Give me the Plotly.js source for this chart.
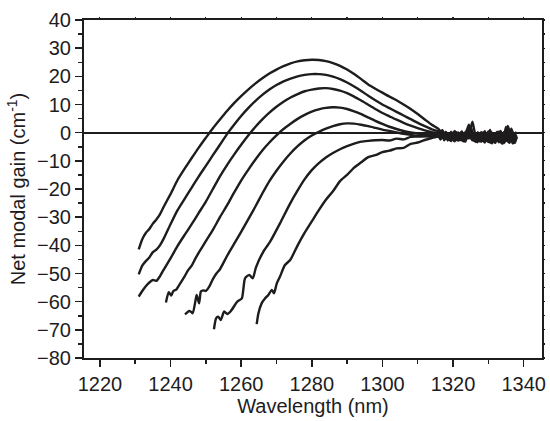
<!DOCTYPE html>
<html>
<head>
<meta charset="utf-8">
<script src="https://cdn.plot.ly/plotly-3.0.1.min.js"></script>
<style>html,body{margin:0;padding:0;background:#fff;}#chart{width:550px;height:421px;}</style>
</head>
<body>
<div id="chart"></div>
<script>
// Wavelength (nm) and net modal gain (cm^-1) for seven curves
const c1x = [1231,1232,1233,1234,1235,1236,1237,1238,1240,1242,1244,1246,1248,1250,1252,1254,1256,1258,1260,1262,1264,1266,1268,1270,1272,1274,1276,1278,1280,1282,1284,1286,1288,1290,1292,1294,1296,1298,1300,1302,1304,1306,1308,1310,1312,1314];
const c1y = [-41.4,-37.8,-35.6,-34.2,-32.3,-30.8,-29.0,-26.5,-21.8,-16.8,-12.8,-9.0,-5.3,-1.8,1.6,4.7,7.7,10.5,13.0,15.3,17.4,19.3,21.0,22.4,23.6,24.6,25.3,25.7,25.9,25.8,25.4,24.7,23.7,22.4,20.8,19.0,17.1,15.6,14.2,12.8,11.5,10.0,8.4,6.6,4.7,2.8];

const c2x = [1231,1232,1233,1234,1235,1236,1237,1238,1240,1242,1244,1246,1248,1250,1252,1254,1256,1258,1260,1262,1264,1266,1268,1270,1272,1274,1276,1278,1280,1282,1284,1286,1288,1290,1292,1294,1296,1298,1300,1302,1304,1306,1308,1310,1312,1314];
const c2y = [-50.3,-47.2,-45.6,-44.3,-42.4,-41.5,-40.0,-37.8,-32.5,-27.5,-23.5,-19.5,-15.5,-11.8,-8.0,-4.3,-0.5,2.8,5.9,8.7,11.2,13.4,15.3,16.9,18.2,19.2,20.0,20.5,20.8,20.8,20.5,19.9,19.0,17.8,16.4,14.8,13.1,11.5,10.0,8.7,7.4,6.1,4.8,3.5,2.3,1.2];

const c3x = [1231,1232,1233,1234,1235,1236,1237,1238,1240,1242,1244,1246,1248,1250,1252,1254,1256,1258,1260,1262,1264,1266,1268,1270,1272,1274,1276,1278,1280,1282,1284,1286,1288,1290,1292,1294,1296,1298,1300,1302,1304,1306,1308,1310,1312,1314];
const c3y = [-58.2,-56.2,-54.5,-53.2,-52.3,-52.6,-51.0,-48.8,-44.6,-40.2,-36.3,-32.5,-28.5,-24.5,-20.0,-15.5,-11.5,-7.8,-4.3,-1.0,2.0,4.7,7.1,9.2,11.0,12.5,13.7,14.7,15.3,15.7,15.8,15.5,14.9,14.0,12.8,11.4,9.9,8.4,7.0,5.8,4.6,3.5,2.5,1.6,0.8,0.2];

const c4x = [1238.7,1239.5,1240.2,1240.8,1241.7,1242.4,1243.2,1244,1245,1246,1247,1248,1250,1252,1254,1256,1258,1260,1262,1264,1266,1268,1270,1272,1274,1276,1278,1280,1282,1284,1286,1288,1290,1292,1294,1296,1298,1300,1302,1304,1306,1308,1310,1312,1314];
const c4y = [-60.3,-56.6,-57.8,-56.2,-55.6,-54.2,-52.6,-51.0,-48.8,-47.2,-44.8,-42.6,-38.5,-34.5,-30.0,-25.8,-21.3,-17.0,-13.2,-9.6,-6.3,-3.5,-1.0,1.3,3.2,4.9,6.3,7.5,8.3,8.8,9.0,8.9,8.4,7.6,6.6,5.4,4.2,3.1,2.1,1.3,0.6,0.1,-0.3,-0.6,-0.8];

const c5x = [1244.1,1245.3,1245.8,1246.3,1247.1,1247.4,1248.1,1248.6,1249.3,1250,1251,1252,1253,1254,1256,1258,1260,1262,1264,1266,1268,1270,1272,1274,1276,1278,1280,1282,1284,1286,1288,1290,1292,1294,1296,1298,1300,1302,1304,1306,1308,1310,1312,1314];
const c5y = [-64.5,-63.3,-63.6,-64.1,-59.4,-57.6,-60.6,-56.4,-56.0,-56.2,-54.6,-52.0,-50.0,-48.5,-43.8,-39.5,-35.2,-30.8,-26.3,-21.6,-17.2,-13.5,-10.2,-7.3,-4.8,-2.7,-1.0,0.3,1.4,2.3,3.0,3.3,3.2,2.8,2.3,1.7,1.1,0.6,0.1,-0.4,-0.8,-1.1,-1.3,-1.4];

const c6x = [1252.3,1252.9,1253.5,1254.2,1255.2,1256.1,1257.1,1258.9,1260.2,1261.1,1262.3,1263.3,1264.2,1266.3,1268.2,1271,1273.9,1276,1278,1280,1282,1284,1286,1288,1290,1292,1294,1296,1298,1300,1302,1304,1306,1308,1310,1312,1314];
const c6y = [-69.8,-65.9,-65.3,-66.5,-63.5,-64.4,-63.3,-60.0,-58.8,-51.7,-50.5,-51.7,-47.8,-42.2,-38.7,-32.2,-25.1,-20.5,-16.5,-13.3,-10.8,-8.8,-7.2,-5.9,-4.8,-3.9,-3.2,-2.9,-2.7,-2.6,-2.8,-2.1,-2.4,-1.5,-1.4,-1.2,-1.0];

const c7x = [1264.4,1264.9,1265.8,1266.8,1267.7,1268.7,1269.3,1270.1,1271,1272.4,1273.9,1276,1278,1280,1282,1284,1286,1288,1290,1292,1294,1296,1298,1300,1302,1304,1306,1308,1310,1312,1314];
const c7y = [-68.0,-64.1,-60.6,-58.8,-57.6,-55.8,-57.0,-53.5,-51.1,-47.0,-45.2,-40.0,-35.5,-31.5,-27.5,-23.8,-20.8,-17.2,-15.0,-12.4,-10.5,-8.7,-8.0,-6.9,-6.4,-5.6,-5.4,-4.0,-3.5,-2.6,-1.9];

// Noisy tails beyond 1316 nm
const tailX = [1316,1316.5,1317,1317.5,1318,1318.5,1319,1319.5,1320,1320.5,1321,1321.5,1322,1322.5,1323,1323.5,1324,1324.5,1325,1325.5,1326,1326.5,1327,1327.5,1328,1328.5,1329,1329.5,1330,1330.5,1331,1331.5,1332,1332.5,1333,1333.5,1334,1334.5,1335,1335.5,1336,1336.5,1337,1337.5,1338];
const t1 = [1.2,0.4,0.9,-0.5,0.3,-1.2,-0.2,-1.6,-0.4,0.6,-1.3,-2.0,-0.5,0.4,-1.4,-0.3,1.2,2.8,0.3,-1.6,-0.4,-2.2,0.1,-1.0,-2.5,-0.6,0.5,-1.9,-0.8,1.0,-1.2,-2.6,-0.7,0.3,-1.8,0.6,-2.3,-1.0,2.0,0.2,-2.0,-0.5,-2.7,-0.9,0.3];
const t2 = [0.4,-0.6,0.2,-1.4,-0.3,-1.9,-0.7,0.3,-1.5,-2.3,-0.8,0.1,-1.7,-0.6,-2.2,-0.4,0.5,-1.2,1.6,3.9,1.0,-1.7,-2.6,-0.6,0.2,-2.0,-2.9,-0.9,0.4,-1.8,-2.5,-0.3,-1.9,-3.0,-0.8,0.2,-1.7,-2.8,-0.4,2.4,0.6,-1.9,-3.2,-1.0,-2.3];
const t3 = [-0.3,-1.2,-0.4,-1.9,-0.8,-2.2,-0.2,-1.5,-2.6,-0.9,0.2,-2.3,-1.0,0.3,-1.6,-2.5,-0.8,0.9,2.2,0.1,-1.5,-2.4,-0.7,-2.9,-1.2,0.1,-1.6,-2.7,-3.3,-0.9,0.0,-2.1,-3.0,-0.6,0.4,-2.2,-3.2,-1.1,-0.2,-2.5,-3.6,-1.2,0.0,-2.8,-1.4];
const t4 = [-1.0,-1.9,-0.5,-2.3,-0.9,-2.6,-0.8,0.0,-2.0,-2.9,-1.1,-0.2,-1.9,-2.7,-0.6,0.2,-2.1,-0.7,0.5,-1.9,-2.9,-0.9,0.0,-2.4,-3.2,-1.0,-0.2,-2.1,-2.8,-3.5,-1.3,-0.4,-2.7,-1.0,-3.4,-1.6,-0.5,0.3,-2.3,-3.1,-0.8,1.4,-0.4,-3.0,-1.2];
const t5 = [-1.5,-2.4,-0.9,-2.7,-1.1,-0.3,-2.3,-3.0,-0.9,-0.2,-2.2,-2.8,-0.6,-2.4,-3.1,-1.0,-0.3,-2.1,0.0,-0.8,-2.6,-3.3,-1.2,-0.4,-2.3,-3.0,-1.1,-0.3,-2.5,-3.2,-3.8,-1.4,-0.6,-2.9,-1.1,-3.3,-3.9,-1.5,-0.7,-3.0,-1.3,-0.5,-3.1,-3.6,-1.7];
const t6 = [-1.1,-0.2,-1.9,-0.4,-2.1,-0.7,-2.5,-0.8,0.0,-2.0,-2.6,-0.9,-0.2,-2.2,-0.6,-2.8,-1.1,-0.3,-1.9,-2.7,-1.0,-0.2,-2.4,-3.1,-0.8,-2.5,-0.7,-2.9,-1.2,-0.4,-2.6,-3.3,-1.0,-2.7,-0.9,-0.1,-2.4,-3.4,-1.1,-0.4,-2.8,-1.0,-3.2,-1.5,-0.8];
const t7 = [-1.4,-2.3,-0.6,-2.5,-1.0,-2.8,-1.2,-0.5,-2.4,-3.1,-1.1,-0.6,-2.7,-0.9,-2.5,-3.2,-1.3,-0.7,0.3,-1.1,-2.9,-1.2,-3.4,-1.6,-0.8,-2.7,-3.5,-1.4,-0.7,-2.8,-1.1,-3.0,-3.6,-1.5,-0.9,-3.1,-1.4,-3.7,-1.8,-1.0,0.5,-2.6,-3.8,-1.9,-1.3];

const mains = [[c1x,c1y,t1],[c2x,c2y,t2],[c3x,c3y,t3],[c4x,c4y,t4],[c5x,c5y,t5],[c6x,c6y,t6],[c7x,c7y,t7]];
const INK = '#1e1c1d';
const FONT = 'Liberation Sans, Arial, Helvetica, sans-serif';

const traces = mains.map(([x, y, t]) => ({
  type: 'scatter', mode: 'lines',
  x: x.concat(tailX), y: y.concat(t),
  line: {color: INK, width: 2.4, shape: 'spline', smoothing: 0.6},
  hoverinfo: 'skip', showlegend: false
}));
// helper trace so the mirrored (top/right) tick axes get drawn
traces.push({type: 'scatter', mode: 'markers', x: [], y: [], xaxis: 'x2', yaxis: 'y2', showlegend: false, hoverinfo: 'skip'});

const layout = {
  width: 550, height: 421,
  margin: {l: 84, r: 8, t: 20, b: 63},
  paper_bgcolor: '#fff', plot_bgcolor: '#fff',
  font: {family: FONT, color: INK, size: 20},
  showlegend: false,
  xaxis: {
    range: [1215.5, 1345.2], dtick: 20, tick0: 1220,
    ticks: 'outside', ticklen: 7, tickwidth: 1.5, tickcolor: INK,
    minor: {dtick: 10, ticks: 'outside', ticklen: 4, tickwidth: 1.5, tickcolor: INK},
    showline: true, linecolor: INK, linewidth: 2, mirror: true,
    showgrid: false, zeroline: false,
    tickfont: {family: FONT, size: 20, color: INK},
    title: {text: 'Wavelength (nm)', font: {family: FONT, size: 20, color: INK}, standoff: 2}
  },
  yaxis: {
    range: [-80, 40], dtick: 10, tick0: 0,
    ticks: 'outside', ticklen: 7, tickwidth: 1.5, tickcolor: INK,
    minor: {dtick: 5, ticks: 'outside', ticklen: 4, tickwidth: 1.5, tickcolor: INK},
    showline: true, linecolor: INK, linewidth: 2, mirror: true,
    showgrid: false, zeroline: true, zerolinecolor: INK, zerolinewidth: 2,
    tickfont: {family: FONT, size: 20, color: INK},
    title: {text: 'Net modal gain (cm<sup>-1</sup>)', font: {family: FONT, size: 20, color: INK}, standoff: 6}
  },
  xaxis2: {
    overlaying: 'x', side: 'top', range: [1215.5, 1345.2], dtick: 10, tick0: 1220,
    ticks: 'outside', ticklen: 2, tickwidth: 1.2, tickcolor: INK,
    showticklabels: false, showline: false, showgrid: false, zeroline: false
  },
  yaxis2: {
    overlaying: 'y', side: 'right', range: [-80, 40], dtick: 5, tick0: 0,
    ticks: 'outside', ticklen: 2, tickwidth: 1.2, tickcolor: INK,
    showticklabels: false, showline: false, showgrid: false, zeroline: false
  }
};

Plotly.newPlot('chart', traces, layout, {staticPlot: true, displayModeBar: false});
</script>
</body>
</html>
